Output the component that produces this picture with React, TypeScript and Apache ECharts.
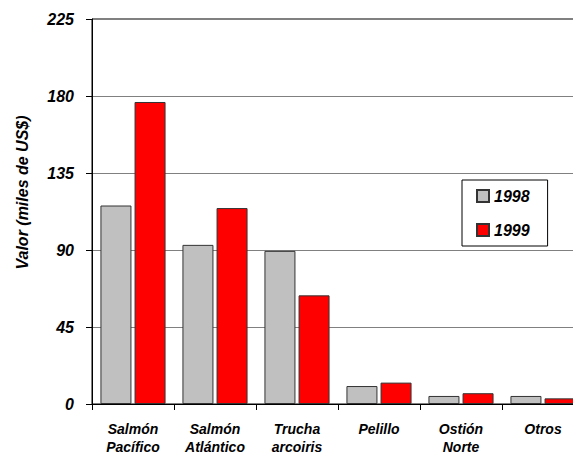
import React, { useEffect, useRef } from "react";
import * as echarts from "echarts";

const categories = ["Salmón\nPacífico", "Salmón\nAtlántico", "Trucha\narcoiris", "Pelillo", "Ostión\nNorte", "Otros"];
const values1998 = [116, 93, 89.5, 10.5, 4.7, 4.7];
const values1999 = [176.5, 114.5, 63.5, 12.5, 6.3, 3.3];
const seriesNames = ["1998", "1999"];

const FONT = "'Liberation Sans', Arial, sans-serif";

export default function App() {
  const ref = useRef<HTMLDivElement>(null);
  useEffect(() => {
    if (!ref.current) return;
    const chart = echarts.init(ref.current, undefined, { renderer: "svg" });
    chart.setOption({
      animation: false,
      backgroundColor: "#fff",
      grid: {
        left: 92,
        top: 19,
        right: 0,
        bottom: 51,
        show: true,
        borderColor: "#000",
        borderWidth: 1,
        containLabel: false,
        outerBoundsMode: "none",
      },
      legend: {
        left: 462,
        top: 180,
        orient: "vertical",
        backgroundColor: "#fff",
        borderColor: "#000",
        borderWidth: 1,
        padding: [7, 18, 7, 14],
        itemGap: 16,
        itemWidth: 12,
        itemHeight: 12,
        icon: "rect",
        textStyle: { fontFamily: FONT, fontSize: 16, lineHeight: 18, fontWeight: "bold", fontStyle: "italic", color: "#000" },
        data: seriesNames,
      },
      xAxis: {
        type: "category",
        data: categories,
        axisLine: { lineStyle: { color: "#000", width: 1 } },
        axisTick: { show: true, length: 6, alignWithLabel: false, lineStyle: { color: "#000" } },
        axisLabel: {
          fontFamily: FONT,
          fontSize: 14,
          fontWeight: "bold",
          fontStyle: "italic",
          color: "#000",
          lineHeight: 18,
          margin: 16,
          interval: 0,
        },
      },
      yAxis: {
        type: "value",
        min: 0,
        max: 225,
        interval: 45,
        name: "Valor (miles de US$)",
        nameLocation: "middle",
        nameGap: 62,
        nameTextStyle: {
          fontFamily: FONT,
          fontSize: 16,
          fontWeight: "bold",
          fontStyle: "italic",
          color: "#000",
          padding: [0, 0, 0, 38],
        },
        axisLine: { show: true, lineStyle: { color: "#000", width: 1 } },
        axisTick: { show: true, length: 6, lineStyle: { color: "#000" } },
        axisLabel: {
          fontFamily: FONT,
          fontSize: 16,
          fontWeight: "bold",
          fontStyle: "italic",
          color: "#000",
          margin: 18,
        },
        splitLine: { show: true, lineStyle: { color: "#808080", width: 1 } },
      },
      series: [
        {
          name: seriesNames[0],
          type: "bar",
          data: values1998,
          barWidth: 31,
          barGap: "10%",
          itemStyle: { color: "#c0c0c0", borderColor: "#333", borderWidth: 1 },
        },
        {
          name: seriesNames[1],
          type: "bar",
          data: values1999,
          barWidth: 31,
          barGap: "10%",
          itemStyle: { color: "#ff0000", borderColor: "#333", borderWidth: 1 },
        },
      ],
    });
    return () => chart.dispose();
  }, []);
  return (
    <div style={{ position: "absolute", left: 0, top: 0, width: 573, height: 455, overflow: "hidden", background: "#fff" }}>
      <div ref={ref} style={{ width: 584, height: 455 }} />
    </div>
  );
}
